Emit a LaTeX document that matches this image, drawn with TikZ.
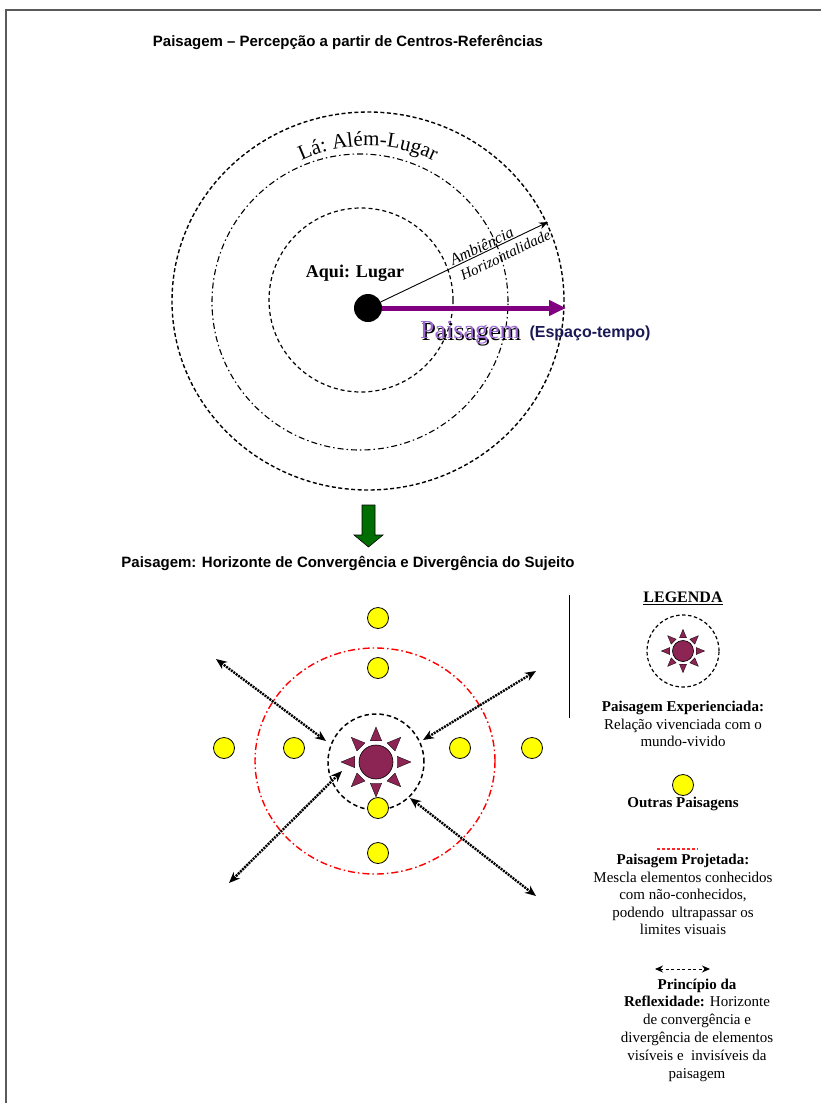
\documentclass[tikz,border=0pt]{standalone}
\usepackage{fontspec}
\setmainfont{Liberation Serif}
\setsansfont{Liberation Sans}
\usetikzlibrary{arrows.meta,decorations.text,shapes.geometric}

\definecolor{sunmaroon}{RGB}{140,36,84}
\definecolor{pathpurple}{RGB}{128,0,128}
\definecolor{paislav}{RGB}{155,105,210}
\definecolor{navyblue}{RGB}{25,25,85}
\definecolor{arrowgreen}{RGB}{0,110,0}
\definecolor{sunyellow}{RGB}{255,255,0}
\definecolor{framegray}{RGB}{90,90,90}

\newcommand\drawmysun[2]{%
 \begin{scope}[shift={#1},scale=#2]
  \foreach \a in {0,45,...,315}{
   \filldraw[fill=sunmaroon,draw=black,line width=0.3pt] (\a:35) -- (\a+15:22) -- (\a-15:22) -- cycle;}
  \filldraw[fill=sunmaroon,draw=black,line width=0.6pt] (0,0) circle (17);
 \end{scope}}

\begin{document}
\begin{tikzpicture}[x=1pt,y=1pt,
  sftxt/.style={font=\sffamily\bfseries\fontsize{15}{17}\selectfont, inner sep=0pt},
  legtxt/.style={font=\fontsize{15}{17}\selectfont, text height=11pt, text depth=3.5pt, inner sep=0pt},
  legbold/.style={legtxt, font=\fontsize{15}{17}\selectfont\bfseries},
  yball/.style={circle, fill=sunyellow, draw=black, line width=0.8pt, minimum size=21pt, inner sep=0pt},
  reflex/.style={line width=2.4pt, dash pattern=on 2pt off 1pt, {Stealth[length=11pt,width=9pt]}-{Stealth[length=11pt,width=9pt]}},
  bigdash/.style={line width=1.4pt, dash pattern=on 4pt off 2.5pt},
  dashdotc/.style={line width=1.1pt, dash pattern=on 6pt off 3pt on 1.5pt off 3pt},
  innerdash/.style={line width=1.2pt, dash pattern=on 4pt off 3pt},
]
\useasboundingbox (0,0) rectangle (821,-1103);
\fill[white] (0,0) rectangle (821,-1103);
% frame
\draw[framegray, line width=1.3pt] (6,-1103) -- (6,-10) -- (821,-10);

% titles
\node[sftxt] (title) at (348,-42) {Paisagem – Percepção a partir de Centros-Referências};

% concentric circles
\draw[bigdash] (368,-301) ellipse [x radius=196, y radius=189];
\draw[dashdotc] (360,-302) circle (148);
\draw[innerdash] (361,-300) circle (92);

% curved label
\path[decorate, decoration={text along path, text={|\fontsize{21}{21}\selectfont|Lá: Além-Lugar}, text align=center}]
  (368,-301) ++(122:155) arc[start angle=122, end angle=58, radius=155];

% centre dot and arrows
\node[circle, fill=black, minimum size=28pt, inner sep=0pt] (dot) at (368,-308) {};
\coordinate (ambend) at (548,-222);
\coordinate (paisend) at (566,-308);
\draw[line width=0.9pt, -{Stealth[length=9pt,width=7pt]}] (dot) -- (ambend);
\draw[pathpurple, line width=5pt, -{Triangle[length=17pt,width=15pt]}] (dot.east) -- (paisend);

\node[font=\bfseries\fontsize{18}{20}\selectfont, inner sep=0pt] (aqui) at (355,-273) {Aqui: Lugar};
\node[font=\itshape\fontsize{16}{16}\selectfont, rotate=25.75, anchor=base, inner sep=0pt] (amb) at (484,-251) {Ambiência};
\node[font=\itshape\fontsize{15}{15}\selectfont, rotate=25.75, anchor=north, inner sep=0pt] (hor) at (503,-250) {Horizontalidade};

\node[font=\fontsize{26}{26}\selectfont, text=black, inner sep=0pt] (paisshadow) at (471.5,-334.5) {Paisagem};
\node[font=\fontsize{26}{26}\selectfont, text=paislav, inner sep=0pt] (pais) at (470,-333) {Paisagem};
\node[font=\sffamily\bfseries\fontsize{16}{18}\selectfont, text=navyblue, inner sep=0pt] (espaco) at (590,-333) {(Espaço-tempo)};

% green arrow
\filldraw[fill=arrowgreen, draw=black, line width=0.6pt]
  (362,-505) -- (375,-505) -- (375,-535) -- (383,-535) -- (368.5,-547) -- (354,-535) -- (362,-535) -- cycle;

\node[sftxt] (subtitle) at (348,-563) {Paisagem: Horizonte de Convergência e Divergência do Sujeito};

% lower diagram
\draw[red, line width=1.4pt, dash pattern=on 7pt off 3pt on 1.5pt off 3pt] (375,-761) ellipse [x radius=120, y radius=113];
\draw[line width=1.5pt, dash pattern=on 4.5pt off 3pt] (376,-762) circle (48);
\drawmysun{(376,-762)}{1}

\node[yball] (y1) at (378,-618) {};
\node[yball] (y2) at (378,-668) {};
\node[yball] (y3) at (224,-748) {};
\node[yball] (y4) at (294,-748) {};
\node[yball] (y5) at (460,-748) {};
\node[yball] (y6) at (532,-748) {};
\node[yball] (y7) at (378,-808) {};
\node[yball] (y8) at (378,-853) {};

\coordinate (nwa) at (216,-659); \coordinate (nwb) at (326,-741);
\coordinate (nea) at (536,-671); \coordinate (neb) at (423,-740);
\coordinate (swa) at (229,-883); \coordinate (swb) at (342,-771);
\coordinate (sea) at (536,-896); \coordinate (seb) at (410,-798);
\draw[reflex] (nwa) -- (nwb);
\draw[reflex] (nea) -- (neb);
\draw[reflex] (swa) -- (swb);
\draw[reflex] (sea) -- (seb);

% legend
\coordinate (vla) at (569,-595); \coordinate (vlb) at (569,-718);
\draw[line width=1pt] (vla) -- (vlb);
\node[font=\bfseries\fontsize{16}{18}\selectfont, inner sep=0pt] (legenda) at (683,-598) {\underline{LEGENDA}};
\draw[line width=1.2pt, dash pattern=on 3.5pt off 2.5pt] (683,-651) circle (36);
\drawmysun{(683,-651)}{0.62}

\node[legbold] (l1) at (683,-708) {Paisagem Experienciada:};
\node[legtxt] (l2) at (683,-726) {Relação vivenciada com o};
\node[legtxt] (l3) at (683,-743) {mundo-vivido};

\node[yball] (ylg) at (683,-785) {};
\node[legbold] (l4) at (683,-804) {Outras Paisagens};

\coordinate (rda) at (657,-849); \coordinate (rdb) at (698,-849);
\draw[red!85!white, line width=1.2pt, dash pattern=on 3pt off 2pt] (rda) -- (rdb);
\node[legbold] (l5) at (683,-861) {Paisagem Projetada:};
\node[legtxt] (l6) at (683,-879) {Mescla elementos conhecidos};
\node[legtxt] (l7) at (683,-896) {com não-conhecidos,};
\node[legtxt] (l8) at (683,-914) {podendo\ \ ultrapassar os};
\node[legtxt] (l9) at (683,-931) {limites visuais};

\coordinate (raa) at (655,-969); \coordinate (rab) at (710,-969);
\draw[line width=1pt, dash pattern=on 3pt off 2.5pt, {Stealth[length=8pt,width=7pt]}-{Stealth[length=8pt,width=7pt]}] (raa) -- (rab);
\node[legbold] (l10) at (697,-986) {Princípio da};
\node[legtxt] (l11) at (697,-1003) {\textbf{Reflexidade:} Horizonte};
\node[legtxt] (l12) at (697,-1021) {de convergência e};
\node[legtxt] (l13) at (697,-1039) {divergência de elementos};
\node[legtxt] (l14) at (697,-1057) {visíveis e\ \ invisíveis da};
\node[legtxt] (l15) at (697,-1075) {paisagem};
\end{tikzpicture}
\end{document}
